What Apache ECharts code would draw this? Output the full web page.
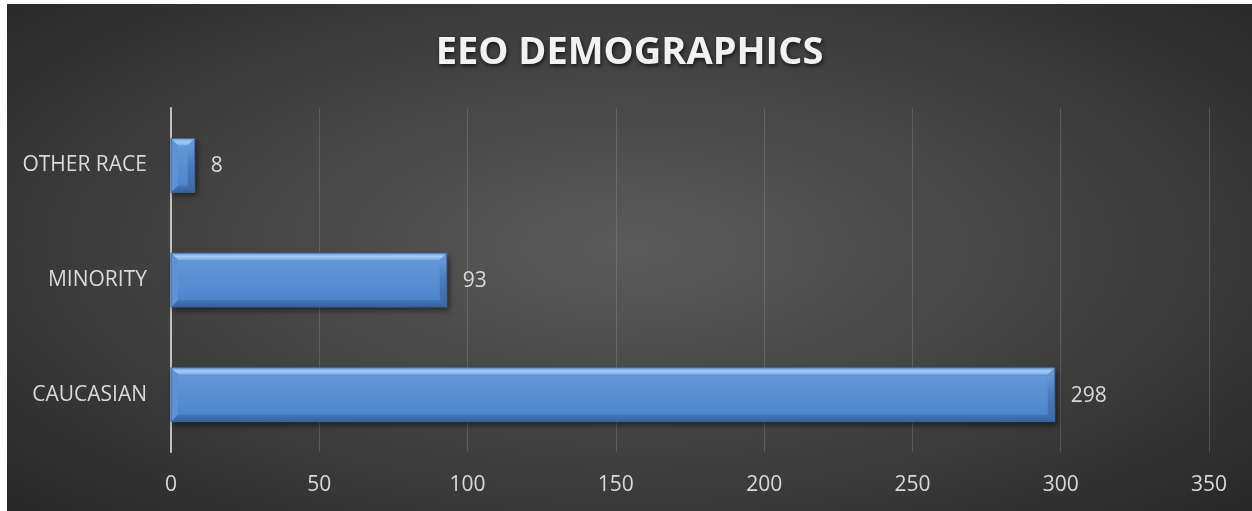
<!DOCTYPE html>
<html>
<head>
<meta charset="utf-8">
<script src="https://cdn.jsdelivr.net/npm/echarts@6/dist/echarts.min.js"></script>
<style>
html,body{margin:0;padding:0;background:#fff;width:1252px;height:511px;overflow:hidden;}
#chart{position:absolute;left:7px;top:4px;width:1245px;height:507px;
background:radial-gradient(ellipse 70% 75% at 50% 48%, #5b5b5b 0%, #404040 55%, #272727 100%);}
</style>
</head>
<body>
<div id="chart"></div>
<script>
const titleText = 'EEO DEMOGRAPHICS';
const categories = ['CAUCASIAN', 'MINORITY', 'OTHER RACE'];
const values = [298, 93, 8];
const xTicks = [0, 50, 100, 150, 200, 250, 300, 350];

const chart = echarts.init(document.getElementById('chart'), null, {renderer: 'canvas'});
const font = '"Open Sans", "Liberation Sans", sans-serif';

function renderBevel(params, api) {
  const ci = api.value(0);
  const v = api.value(1);
  const p0 = api.coord([0, ci]);
  const p1 = api.coord([v, ci]);
  const bandH = api.size([0, 1])[1];
  const h = bandH * 0.47;
  const x0 = p0[0], x1 = p1[0];
  const y0 = p0[1] - h / 2, y1 = p0[1] + h / 2;
  const b = Math.min(7, (x1 - x0) / 3);
  return {
    type: 'group',
    children: [
      {type: 'rect', shape: {x: x0, y: y0, width: x1 - x0, height: h},
        style: {fill: '#5189cf', shadowBlur: 6, shadowColor: 'rgba(0,0,0,0.55)', shadowOffsetX: 2, shadowOffsetY: 3}},
      {type: 'rect', shape: {x: x0 + b, y: y0 + b, width: x1 - x0 - 2 * b, height: h - 2 * b},
        style: {fill: new echarts.graphic.LinearGradient(0, 0, 0, 1, [
          {offset: 0, color: '#6397d8'}, {offset: 1, color: '#4f86cb'}])}},
      {type: 'polygon', shape: {points: [[x0, y0], [x1, y0], [x1 - b, y0 + b], [x0 + b, y0 + b]]},
        style: {fill: new echarts.graphic.LinearGradient(0, 0, 0, 1, [
          {offset: 0, color: '#6d9fdc'}, {offset: 0.5, color: '#a9cdf6'}, {offset: 1, color: '#7aaae6'}])}},
      {type: 'polygon', shape: {points: [[x0, y1], [x1, y1], [x1 - b, y1 - b], [x0 + b, y1 - b]]},
        style: {fill: new echarts.graphic.LinearGradient(0, 0, 0, 1, [
          {offset: 0, color: '#4579ba'}, {offset: 1, color: '#345f98'}])}},
      {type: 'polygon', shape: {points: [[x0, y0], [x0 + b, y0 + b], [x0 + b, y1 - b], [x0, y1]]},
        style: {fill: '#5d92d4'}},
      {type: 'polygon', shape: {points: [[x1, y0], [x1 - b, y0 + b], [x1 - b, y1 - b], [x1, y1]]},
        style: {fill: new echarts.graphic.LinearGradient(0, 0, 0, 1, [
          {offset: 0, color: '#6f9fdc'}, {offset: 0.5, color: '#4a7cbd'}, {offset: 1, color: '#3a679f'}])}},
      {type: 'rect', shape: {x: x0, y: y0, width: x1 - x0, height: h},
        style: {fill: 'none', stroke: '#3a669f', lineWidth: 1}},
      {type: 'text', x: x1 + 16, y: p0[1] + 1,
        style: {text: String(v), fill: '#d9d9d9', fontSize: 21, fontFamily: font,
          verticalAlign: 'middle', align: 'left'}}
    ]
  };
}

chart.setOption({
  backgroundColor: 'transparent',
  animation: false,
  title: {
    text: titleText,
    left: 'center',
    top: 25,
    textStyle: {
      fontFamily: font, fontSize: 38, fontWeight: 'bold', color: '#f2f2f2',
      textShadowColor: 'rgba(0,0,0,0.7)', textShadowBlur: 4, textShadowOffsetX: 1, textShadowOffsetY: 2
    }
  },
  grid: {left: 164, right: 43, top: 104, bottom: 59, containLabel: false},
  xAxis: {
    type: 'value', min: 0, max: 350, interval: 50,
    axisLine: {show: false},
    axisTick: {show: false},
    splitLine: {show: true, lineStyle: {color: 'rgba(160,160,160,0.3)', width: 1}},
    axisLabel: {color: '#d9d9d9', fontSize: 21, fontFamily: font, margin: 23,
      formatter: v => xTicks.includes(v) ? String(v) : ''}
  },
  yAxis: {
    type: 'category', data: categories,
    axisLine: {show: true, lineStyle: {color: '#bfbfbf', width: 2}},
    axisTick: {show: false},
    axisLabel: {color: '#d9d9d9', fontSize: 21, fontFamily: font, margin: 24}
  },
  series: [{
    type: 'custom',
    renderItem: renderBevel,
    data: values.map((v, i) => [i, v]),
    encode: {x: 1, y: 0}
  }]
});
</script>
</body>
</html>
